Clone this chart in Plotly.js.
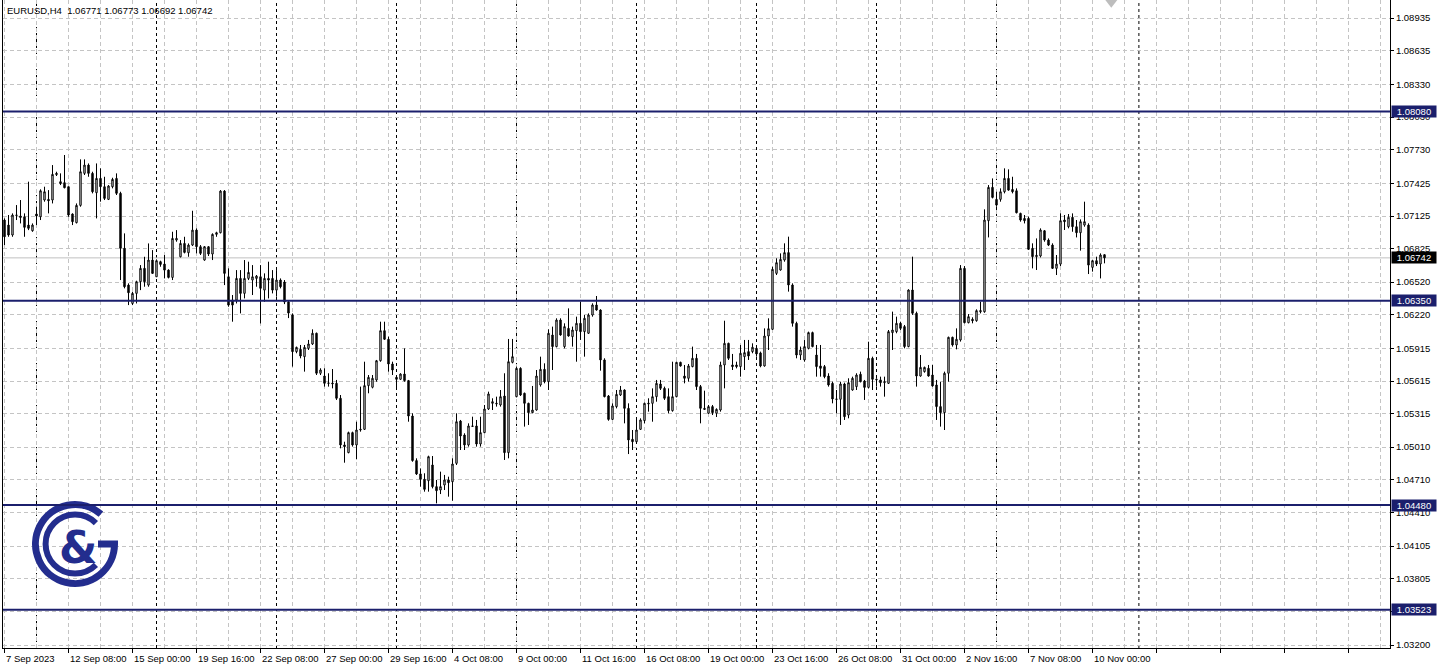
<!DOCTYPE html>
<html><head><meta charset="utf-8">
<script src="https://cdn.plot.ly/plotly-3.0.1.min.js"></script>
<style>html,body{margin:0;padding:0;background:#fff;overflow:hidden}#chart{width:1438px;height:669px}</style>
</head><body><div id="chart"></div>
<script>
const symbolTitle = "EURUSD,H4";
const headerOHLC = [1.06771, 1.06773, 1.06692, 1.06742];

const openP = [
1.07088,1.07042,1.06951,1.07134,1.07125,1.07118,1.07042,1.06990,1.07143,1.07118,
1.07271,1.07277,1.07271,1.07503,1.07439,1.07430,1.07393,1.07143,1.07064,1.07222,
1.07515,1.07591,1.07515,1.07338,1.07469,1.07393,1.07277,1.07393,1.07469,1.07332,
1.06829,1.06493,1.06325,1.06417,1.06524,1.06646,1.06493,1.06722,1.06569,1.06707,
1.06685,1.06630,1.06563,1.06905,1.06752,1.06874,1.06789,1.06859,1.06996,1.06844,
1.06722,1.06844,1.06777,1.06957,1.06972,1.07353,1.06569,1.06356,1.06356,1.06554,
1.06417,1.06554,1.06539,1.06554,1.06569,1.06447,1.06554,1.06554,1.06447,1.06539,
1.06521,1.06338,1.06219,1.05884,1.05905,1.05838,1.05914,1.05954,1.06052,1.05686,
1.05661,1.05594,1.05597,1.05594,1.05457,1.05030,1.04960,1.05143,1.05030,1.05167,
1.05173,1.05573,1.05558,1.05625,1.05801,1.06076,1.05997,1.05771,1.05649,1.05631,
1.05679,1.05619,1.05295,1.04887,1.04765,1.04716,1.04703,1.04847,1.04649,1.04618,
1.04664,1.04710,1.04694,1.04862,1.05249,1.05121,1.05030,1.05204,1.05204,1.05039,
1.05143,1.05359,1.05411,1.05405,1.05396,1.05478,1.04960,1.05786,1.05472,1.05731,
1.05503,1.05411,1.05326,1.05350,1.05579,1.05722,1.05609,1.06036,1.05930,1.06173,
1.05930,1.06097,1.06021,1.06076,1.06143,1.06067,1.06052,1.06219,1.06311,1.06265,
1.05808,1.05478,1.05264,1.05381,1.05487,1.05533,1.05365,1.05082,1.05060,1.05173,
1.05253,1.05405,1.05411,1.05472,1.05588,1.05548,1.05472,1.05344,1.05472,1.05786,
1.05661,1.05640,1.05747,1.05823,1.05564,1.05365,1.05320,1.05381,1.05320,1.05350,
1.05762,1.05960,1.05762,1.05762,1.05747,1.05838,1.05884,1.05884,1.05914,1.05872,
1.05753,1.06027,1.06088,1.06600,1.06631,1.06722,1.06790,1.06494,1.06143,1.05853,
1.05808,1.05914,1.06058,1.05853,1.05753,1.05747,1.05661,1.05594,1.05451,1.05448,
1.05588,1.05304,1.05533,1.05564,1.05677,1.05615,1.05557,1.05823,1.05625,1.05625,
1.05600,1.05594,1.06058,1.06067,1.06143,1.06113,1.05930,1.06448,1.06235,1.05661,
1.05701,1.05731,1.05670,1.05579,1.05381,1.05326,1.05686,1.06015,1.05945,1.05991,
1.06646,1.06149,1.06180,1.06167,1.06249,1.06249,1.07082,1.07387,1.07277,1.07277,
1.07347,1.07469,1.07368,1.07356,1.07149,1.07103,1.07103,1.06829,1.06753,1.06759,
1.06990,1.06905,1.06859,1.06646,1.06685,1.07088,1.07027,1.07113,1.07027,1.06972,
1.07042,1.07042,1.06655,1.06716,1.06686,1.06771];

const highP = [
1.07103,1.07134,1.07149,1.07225,1.07271,1.07149,1.07439,1.07057,1.07210,1.07369,
1.07393,1.07362,1.07591,1.07530,1.07515,1.07683,1.07393,1.07149,1.07240,1.07643,
1.07643,1.07606,1.07530,1.07606,1.07561,1.07484,1.07408,1.07475,1.07515,1.07347,
1.06966,1.06509,1.06432,1.06533,1.06676,1.06752,1.06874,1.06813,1.06728,1.06716,
1.06768,1.06637,1.06981,1.06996,1.06905,1.06935,1.06874,1.07173,1.07012,1.06859,
1.06850,1.06850,1.06966,1.06981,1.07362,1.07362,1.06646,1.06402,1.06630,1.06630,
1.06722,1.06707,1.06676,1.06585,1.06676,1.06600,1.06707,1.06630,1.06630,1.06554,
1.06539,1.06356,1.06234,1.05930,1.05945,1.05945,1.05991,1.06088,1.06058,1.05732,
1.05732,1.05686,1.05725,1.05625,1.05487,1.05060,1.05152,1.05152,1.05243,1.05564,
1.05792,1.05670,1.05670,1.05808,1.06158,1.06158,1.06021,1.05792,1.05670,1.05686,
1.05914,1.05625,1.05320,1.04908,1.04816,1.04771,1.04932,1.04929,1.04710,1.04786,
1.04756,1.04740,1.04908,1.05320,1.05259,1.05137,1.05228,1.05289,1.05259,1.05289,
1.05396,1.05518,1.05457,1.05472,1.05533,1.05686,1.06000,1.06000,1.05747,1.05741,
1.05509,1.05417,1.05570,1.05716,1.05838,1.05777,1.06088,1.06113,1.06189,1.06189,
1.06143,1.06280,1.06113,1.06204,1.06341,1.06219,1.06234,1.06326,1.06393,1.06271,
1.05823,1.05487,1.05411,1.05533,1.05570,1.05539,1.05411,1.05167,1.05259,1.05274,
1.05417,1.05457,1.05548,1.05625,1.05625,1.05564,1.05548,1.05792,1.05792,1.05792,
1.05762,1.05771,1.05930,1.05863,1.05579,1.05527,1.05396,1.05396,1.05365,1.05792,
1.06167,1.05966,1.05863,1.05792,1.05945,1.05991,1.05991,1.05960,1.05930,1.05884,
1.06097,1.06189,1.06661,1.06738,1.06783,1.06875,1.06936,1.06509,1.06158,1.05930,
1.05990,1.06067,1.06067,1.05945,1.05945,1.05762,1.05686,1.05609,1.05533,1.05609,
1.05600,1.05640,1.05655,1.05686,1.05701,1.05625,1.05975,1.05838,1.05640,1.05655,
1.05655,1.06082,1.06250,1.06204,1.06158,1.06128,1.06454,1.06753,1.06250,1.05853,
1.05747,1.05762,1.05762,1.05625,1.05609,1.05701,1.06021,1.06021,1.06097,1.06676,
1.06667,1.06228,1.06198,1.06271,1.06341,1.07186,1.07408,1.07469,1.07347,1.07378,
1.07561,1.07552,1.07484,1.07378,1.07155,1.07134,1.07119,1.06875,1.06920,1.07012,
1.06997,1.06920,1.06875,1.06768,1.07149,1.07134,1.07143,1.07149,1.07088,1.07094,
1.07256,1.07058,1.06722,1.06753,1.06783,1.06773];

const lowP = [
1.06859,1.06935,1.06935,1.07088,1.07057,1.06935,1.06996,1.06981,1.07042,1.07088,
1.07256,1.07149,1.07240,1.07491,1.07408,1.07378,1.07118,1.07042,1.07057,1.07210,
1.07500,1.07484,1.07332,1.07103,1.07256,1.07271,1.07271,1.07378,1.07317,1.06539,
1.06463,1.06310,1.06310,1.06325,1.06447,1.06478,1.06478,1.06600,1.06569,1.06661,
1.06554,1.06554,1.06539,1.06890,1.06746,1.06783,1.06752,1.06850,1.06783,1.06768,
1.06716,1.06759,1.06722,1.06935,1.06966,1.06493,1.06295,1.06158,1.06325,1.06234,
1.06371,1.06539,1.06402,1.06478,1.06142,1.06341,1.06371,1.06417,1.06387,1.06463,
1.06319,1.06191,1.05747,1.05869,1.05823,1.05701,1.05899,1.05945,1.05670,1.05670,
1.05564,1.05564,1.05548,1.05442,1.04999,1.04868,1.04954,1.05015,1.04899,1.05152,
1.05167,1.05503,1.05548,1.05609,1.05792,1.05991,1.05701,1.05670,1.05548,1.05625,
1.05609,1.05243,1.04877,1.04756,1.04649,1.04603,1.04603,1.04633,1.04496,1.04581,
1.04618,1.04557,1.04520,1.04847,1.04984,1.04984,1.05015,1.05198,1.05015,1.05015,
1.05137,1.05350,1.05350,1.05381,1.05381,1.04893,1.04908,1.05777,1.05466,1.05478,
1.05198,1.05213,1.05320,1.05344,1.05564,1.05594,1.05533,1.05716,1.05923,1.06030,
1.05914,1.06021,1.05930,1.05792,1.05991,1.05838,1.06046,1.06204,1.06259,1.05710,
1.05466,1.05252,1.05259,1.05365,1.05478,1.05228,1.04947,1.04984,1.05054,1.05167,
1.05228,1.05335,1.05243,1.05426,1.05533,1.05442,1.05320,1.05335,1.05466,1.05747,
1.05594,1.05609,1.05741,1.05533,1.05228,1.05350,1.05314,1.05304,1.05286,1.05335,
1.05548,1.05808,1.05716,1.05731,1.05655,1.05716,1.05808,1.05869,1.05838,1.05741,
1.05747,1.05899,1.06082,1.06585,1.06625,1.06707,1.06433,1.06113,1.05823,1.05808,
1.05792,1.05905,1.05924,1.05655,1.05655,1.05640,1.05564,1.05411,1.05320,1.05213,
1.05259,1.05274,1.05527,1.05533,1.05603,1.05442,1.05548,1.05533,1.05564,1.05564,
1.05472,1.05588,1.05899,1.06052,1.06082,1.05914,1.05924,1.06220,1.05564,1.05655,
1.05692,1.05655,1.05564,1.05259,1.05198,1.05167,1.05609,1.05930,1.05905,1.05976,
1.06143,1.06143,1.06143,1.06158,1.06234,1.06240,1.06929,1.07286,1.07210,1.07256,
1.07332,1.07356,1.07332,1.07149,1.07073,1.07057,1.06814,1.06646,1.06631,1.06746,
1.06890,1.06850,1.06640,1.06585,1.06667,1.06997,1.07012,1.06981,1.06929,1.06808,
1.07027,1.06594,1.06616,1.06667,1.06554,1.06692];

const closeP = [
1.06935,1.06951,1.07134,1.07131,1.07112,1.07021,1.07012,1.07042,1.07125,1.07356,
1.07347,1.07265,1.07506,1.07515,1.07423,1.07384,1.07134,1.07073,1.07222,1.07530,
1.07591,1.07515,1.07347,1.07469,1.07393,1.07286,1.07399,1.07460,1.07332,1.06829,
1.06478,1.06423,1.06417,1.06524,1.06646,1.06524,1.06722,1.06600,1.06716,1.06682,
1.06630,1.06563,1.06920,1.06920,1.06874,1.06792,1.06859,1.06996,1.06844,1.06783,
1.06844,1.06777,1.06957,1.06972,1.07353,1.06600,1.06310,1.06310,1.06554,1.06417,
1.06554,1.06609,1.06569,1.06575,1.06463,1.06554,1.06539,1.06447,1.06539,1.06478,
1.06338,1.06237,1.05884,1.05923,1.05844,1.05923,1.05954,1.06052,1.05686,1.05716,
1.05594,1.05597,1.05591,1.05457,1.05030,1.05015,1.05143,1.05030,1.05167,1.05173,
1.05573,1.05649,1.05640,1.05801,1.06076,1.05997,1.05771,1.05716,1.05631,1.05679,
1.05619,1.05295,1.04887,1.04765,1.04716,1.04624,1.04923,1.04649,1.04612,1.04649,
1.04710,1.04685,1.04856,1.05243,1.05112,1.05030,1.05204,1.05201,1.05039,1.05143,
1.05359,1.05497,1.05426,1.05411,1.05472,1.04960,1.05792,1.05838,1.05731,1.05487,
1.05411,1.05326,1.05350,1.05661,1.05722,1.05609,1.06052,1.05930,1.06173,1.06036,
1.06113,1.06027,1.06082,1.06143,1.06067,1.06189,1.06219,1.06311,1.06265,1.05808,
1.05472,1.05264,1.05387,1.05493,1.05533,1.05365,1.05076,1.05060,1.05167,1.05259,
1.05411,1.05411,1.05472,1.05594,1.05548,1.05457,1.05344,1.05472,1.05786,1.05753,
1.05640,1.05753,1.05823,1.05564,1.05365,1.05356,1.05381,1.05326,1.05356,1.05762,
1.05960,1.05823,1.05747,1.05747,1.05869,1.05875,1.05844,1.05924,1.05863,1.05753,
1.06027,1.06094,1.06637,1.06698,1.06728,1.06790,1.06494,1.06143,1.05853,1.05899,
1.05930,1.06058,1.05930,1.05747,1.05731,1.05655,1.05579,1.05451,1.05448,1.05588,
1.05289,1.05600,1.05640,1.05670,1.05609,1.05557,1.05823,1.05631,1.05631,1.05600,
1.05609,1.06067,1.06082,1.06143,1.06097,1.05930,1.06448,1.06235,1.05661,1.05740,
1.05740,1.05661,1.05570,1.05381,1.05326,1.05686,1.06015,1.05945,1.05997,1.06646,
1.06149,1.06204,1.06167,1.06259,1.06259,1.07088,1.07387,1.07295,1.07225,1.07347,
1.07469,1.07362,1.07347,1.07155,1.07088,1.07082,1.06820,1.06753,1.06765,1.06997,
1.06905,1.06859,1.06646,1.06685,1.07082,1.07073,1.07113,1.07027,1.06972,1.07073,
1.07073,1.06676,1.06716,1.06686,1.06768,1.06742];

const timeLabels = ["7 Sep 2023","12 Sep 08:00","15 Sep 00:00","19 Sep 16:00","22 Sep 08:00","27 Sep 00:00",
  "29 Sep 16:00","4 Oct 08:00","9 Oct 00:00","11 Oct 16:00","16 Oct 08:00","19 Oct 00:00",
  "23 Oct 16:00","26 Oct 08:00","31 Oct 00:00","2 Nov 16:00","7 Nov 08:00","10 Nov 00:00"];
const timeLabelBars = [0,16,32,48,64,80,96,112,128,144,160,176,192,208,224,240,256,272];
const weekStartBars = [8,38,68,98,128,158,188,218,248];
const futureSeparatorBar = 283.6;
const priceTicks = [1.08935,1.08635,1.08330,1.08030,1.07730,1.07425,1.07125,1.06825,1.06520,1.06220,
  1.05915,1.05615,1.05315,1.05010,1.04710,1.04410,1.04105,1.03805,1.03505,1.03200];
const levelLines = [1.08080, 1.06350, 1.04480, 1.03523];
const currentPrice = 1.06742;

const bars = openP.map((_, i) => i);
const FONT = "Liberation Sans, Arial, sans-serif";
const NAVY = "#1b1f6c";
const LOGO = "#232d8e";
const GRID = "#c4c4c4";

const trace = {
  type: 'candlestick', x: bars, open: openP, high: highP, low: lowP, close: closeP,
  increasing: {line: {color: '#000000', width: 1}, fillcolor: '#ffffff'},
  decreasing: {line: {color: '#000000', width: 1}, fillcolor: '#000000'},
  whiskerwidth: 0, hoverinfo: 'skip', showlegend: false
};

const shapes = [];
weekStartBars.concat([futureSeparatorBar]).forEach(b => shapes.push({type: 'line', xref: 'x', yref: 'paper', x0: b, x1: b, y0: 0, y1: 1,
  line: {color: '#000000', width: 1, dash: '3px,3px'}, layer: 'below'}));
shapes.push({type: 'line', xref: 'paper', yref: 'y', x0: 0, x1: 1, y0: currentPrice, y1: currentPrice,
  line: {color: '#c0c0c0', width: 1}, layer: 'below'});
levelLines.forEach(v => shapes.push({type: 'line', xref: 'paper', yref: 'y', x0: 0, x1: 1, y0: v, y1: v,
  line: {color: NAVY, width: 2}, layer: 'above'}));
shapes.push({type: 'path', xref: 'x', yref: 'paper', path: 'M 275.2,1 L 278.2,1 L 276.7,0.988 Z',
  fillcolor: '#bdbdbd', line: {width: 0}});

const annotations = [];
annotations.push({xref: 'paper', yref: 'paper', x: 0, y: 1, xanchor: 'left', yanchor: 'top', xshift: 2, yshift: -3,
  showarrow: false, text: symbolTitle + '  ' + headerOHLC.map(v => v.toFixed(5)).join(' '),
  font: {family: FONT, size: 9.5, color: '#000'}});
timeLabels.forEach((t, k) => annotations.push({xref: 'x', yref: 'paper', x: timeLabelBars[k], y: 0,
  xanchor: 'left', yanchor: 'top', xshift: -1, yshift: -3, showarrow: false, text: t,
  font: {family: FONT, size: 9.5, color: '#000'}}));
levelLines.forEach(v => annotations.push({xref: 'paper', yref: 'y', x: 1, y: v, xanchor: 'left', yanchor: 'middle',
  xshift: 1, showarrow: false, text: v.toFixed(5), bgcolor: NAVY, width: 44, height: 11, borderpad: 0,
  font: {family: FONT, size: 9.5, color: '#ffffff'}}));
annotations.push({xref: 'paper', yref: 'y', x: 1, y: currentPrice, xanchor: 'left', yanchor: 'middle',
  xshift: 1, showarrow: false, text: currentPrice.toFixed(5), bgcolor: '#000000', width: 44, height: 11, borderpad: 0,
  font: {family: FONT, size: 9.5, color: '#ffffff'}});
annotations.push({xref: 'paper', yref: 'paper', x: (78 - 3) / 1387, y: (648 - 547) / 648, xanchor: 'center', yanchor: 'middle',
  showarrow: false, text: '&amp;', font: {family: 'DejaVu Sans, sans-serif', size: 44, color: LOGO, weight: 'bold'}});

const svg = '<svg xmlns="http://www.w3.org/2000/svg" width="100" height="100" viewBox="0 0 100 100">' +
  '<path d="M 75.9 20.2 A 39.5 39.5 0 1 0 89.5 50 L 73 50" fill="none" stroke="' + LOGO + '" stroke-width="7" stroke-linejoin="miter"/>' +
  '<path d="M 70.9 29.1 A 29.5 29.5 0 1 0 70.9 70.9" fill="none" stroke="' + LOGO + '" stroke-width="6"/>' +
  '</svg>';
const images = [{source: 'data:image/svg+xml;charset=utf-8,' + encodeURIComponent(svg),
  xref: 'paper', yref: 'paper', x: (25 - 3) / 1387, y: (648 - 494) / 648, sizex: 100 / 1387, sizey: 100 / 648,
  xanchor: 'left', yanchor: 'top', sizing: 'stretch', layer: 'above'}];

const minorBars = timeLabelBars.map(b => b + 8).concat([288, 296, 304, 312, 320, 328, 336, 344]);
const majorBars = timeLabelBars.concat([288, 304, 320, 336]);

const layout = {
  width: 1438, height: 669,
  margin: {l: 3, r: 48, t: 0, b: 21, pad: 0},
  paper_bgcolor: '#ffffff', plot_bgcolor: '#ffffff',
  boxgap: 0.5,
  showlegend: false,
  xaxis: {
    range: [-0.375, 346.375], fixedrange: true, rangeslider: {visible: false},
    tickmode: 'array', tickvals: majorBars, showticklabels: false,
    ticks: 'outside', ticklen: 4, tickcolor: '#000', tickwidth: 1,
    showgrid: true, gridcolor: GRID, griddash: '4px,3px', gridwidth: 1,
    minor: {tickmode: 'array', tickvals: minorBars, showgrid: true, gridcolor: GRID, griddash: '4px,3px', ticks: ''},
    showline: true, linecolor: '#000', linewidth: 1, zeroline: false
  },
  yaxis: {
    side: 'right', range: [1.031726, 1.091012], fixedrange: true,
    tickmode: 'array', tickvals: priceTicks, ticktext: priceTicks.map(v => v.toFixed(5)),
    ticks: 'outside', ticklen: 3, tickcolor: '#000',
    tickfont: {family: FONT, size: 9.5, color: '#000'},
    showgrid: true, gridcolor: GRID, griddash: '4px,3px', gridwidth: 1,
    showline: true, mirror: true, linecolor: '#000', linewidth: 1, zeroline: false
  },
  shapes: shapes, annotations: annotations, images: images
};

Plotly.newPlot('chart', [trace], layout, {staticPlot: true, displayModeBar: false});
</script>
</body></html>
